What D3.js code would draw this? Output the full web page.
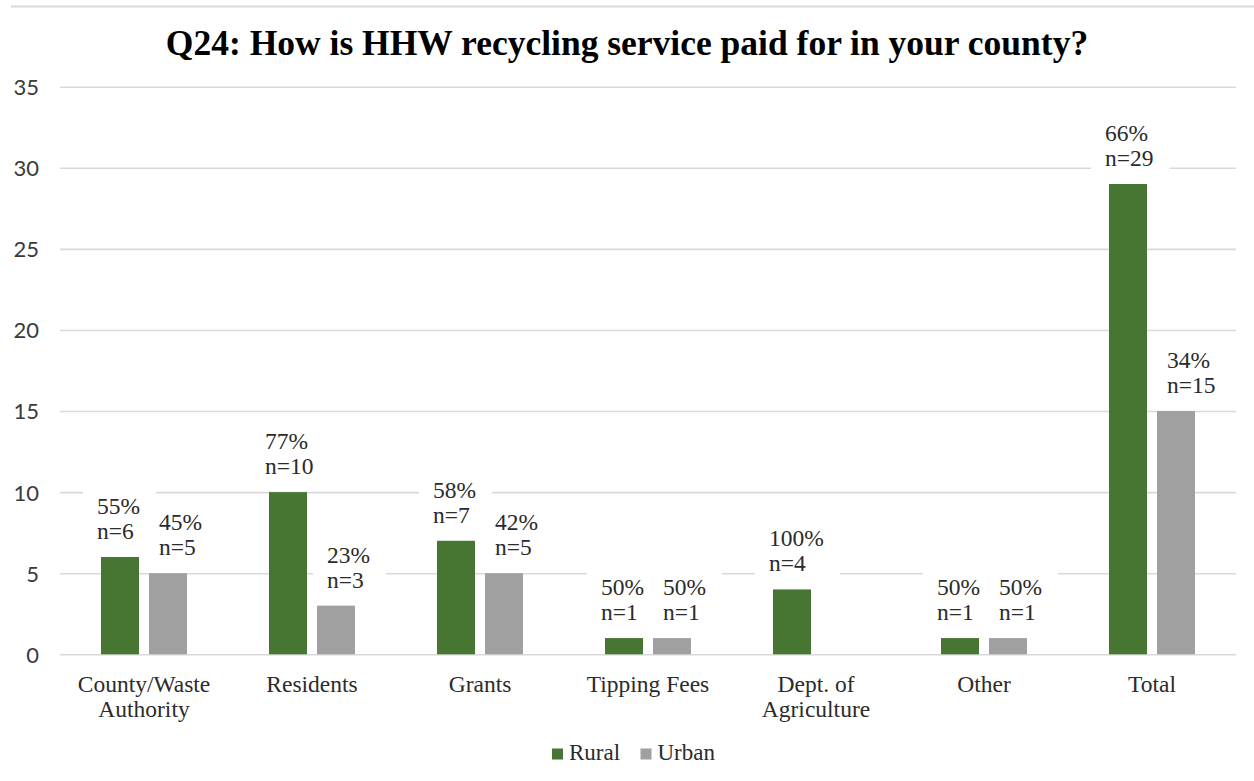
<!DOCTYPE html>
<html>
<head>
<meta charset="utf-8">
<script src="https://cdn.jsdelivr.net/npm/d3@7"></script>
<style>
  html, body { margin: 0; padding: 0; background: #fff; }
  svg { display: block; }
  .serif { font-family: "Liberation Serif", "DejaVu Serif", serif; }
  .sans { font-family: Lato, "Open Sans", sans-serif; }
</style>
</head>
<body>
<svg id="chart" width="1254" height="781"></svg>
<script>
// Survey answers: counties by payment method, split rural / urban
const categories = [["County/Waste", "Authority"], ["Residents"], ["Grants"], ["Tipping Fees"], ["Dept. of", "Agriculture"], ["Other"], ["Total"]];
const series = ["Rural", "Urban"];
const rural = [6, 10, 7, 1, 4, 1, 29];
const urban = [5, 3, 5, 1, 0, 1, 15];
const yTicks = [0, 5, 10, 15, 20, 25, 30, 35];
const title = "Q24: How is HHW recycling service paid for in your county?";

const colors = { Rural: "#477532", Urban: "#a0a0a0" };
const W = 1254, H = 781;
const margin = { left: 60, right: 18, top: 86.7, bottom: 126.7 };
const textColor = "#2b2b2b";

const svg = d3.select("#chart");
svg.append("rect").attr("width", W).attr("height", H).attr("fill", "#fff");

// thin frame edge along the top
svg.append("line")
  .attr("x1", 11).attr("x2", W).attr("y1", 6.5).attr("y2", 6.5)
  .attr("stroke", "#dadada").attr("stroke-width", 2);

const keys = categories.map(c => c.join(" "));
const x0 = d3.scaleBand().domain(keys).range([margin.left, W - margin.right]).paddingInner(0).paddingOuter(0);
const groupW = 86;
const x1 = d3.scaleBand().domain(series).range([0, groupW]).paddingInner(0.2083).paddingOuter(0);
const y = d3.scaleLinear().domain([0, 35]).range([H - margin.bottom, margin.top]);

// gridlines and value axis labels
const yAxis = d3.axisLeft(y).tickValues(yTicks).tickSize(-(W - margin.right - margin.left)).tickPadding(21);
const ga = svg.append("g").attr("transform", `translate(${margin.left},0)`).call(yAxis);
ga.attr("font-family", null).attr("font-size", null);
ga.select(".domain").remove();
ga.selectAll(".tick line").attr("stroke", "#d9d9d9").attr("stroke-width", 1.6);
ga.selectAll(".tick text")
  .attr("class", "sans").attr("font-size", 22).attr("fill", "#3a3a3a")
  .attr("dy", "0.36em");

// title
svg.append("text")
  .attr("class", "serif")
  .attr("x", W / 2).attr("y", 55)
  .attr("text-anchor", "middle")
  .attr("font-weight", "bold").attr("font-size", 35.5)
  .attr("fill", "#000")
  .text(title);

// bars
const rows = keys.map((k, i) => ({ key: k, label: categories[i], Rural: rural[i], Urban: urban[i] }));
const groups = svg.append("g").selectAll("g").data(rows).join("g")
  .attr("transform", d => `translate(${x0(d.key) + (x0.bandwidth() - groupW) / 2},0)`);

groups.selectAll("rect")
  .data(d => series.map(s => ({ s, v: d[s] })).filter(e => e.v > 0))
  .join("rect")
  .attr("x", e => x1(e.s))
  .attr("y", e => y(e.v))
  .attr("width", x1.bandwidth())
  .attr("height", e => y(0) - y(e.v))
  .attr("fill", e => colors[e.s]);

// data labels: share of the category (rounded) and count
const labelLayer = svg.append("g");
rows.forEach(d => {
  const total = d.Rural + d.Urban;
  const gx = x0(d.key) + (x0.bandwidth() - groupW) / 2;
  series.forEach(s => {
    const v = d[s];
    if (!(v > 0)) return;
    const pct = Math.round(v / total * 100) + "%";
    const lx = gx + x1(s) + (s === "Rural" ? -4 : 10);
    const base = y(v) - 18;
    const g = labelLayer.append("g");
    const bg = g.append("rect").attr("fill", "#fff");
    const t = g.append("text")
      .attr("class", "serif").attr("font-size", 23.5).attr("fill", textColor);
    t.append("tspan").attr("x", lx).attr("y", base - 25).text(pct);
    t.append("tspan").attr("x", lx).attr("y", base).text("n=" + v);
    const bb = t.node().getBBox();
    bg.attr("x", bb.x - 14).attr("y", bb.y - 6).attr("width", bb.width + 30).attr("height", bb.height + 10);
  });
});

// category labels
const xl = svg.append("g");
rows.forEach(d => {
  const cx = x0(d.key) + x0.bandwidth() / 2;
  const t = xl.append("text")
    .attr("class", "serif")
    .attr("text-anchor", "middle")
    .attr("font-size", 23.5).attr("fill", textColor);
  d.label.forEach((line, j) => {
    t.append("tspan").attr("x", cx).attr("y", 692 + j * 25).text(line);
  });
});

// legend
const legend = svg.append("g");
const legendItems = [{ s: "Rural", x: 552 }, { s: "Urban", x: 640.5 }];
legendItems.forEach(it => {
  legend.append("rect").attr("x", it.x).attr("y", 748.5).attr("width", 11).attr("height", 11).attr("fill", colors[it.s]);
  legend.append("text").attr("class", "serif").attr("x", it.x + 17).attr("y", 760)
    .attr("font-size", 23).attr("fill", textColor).text(it.s);
});
</script>
</body>
</html>
